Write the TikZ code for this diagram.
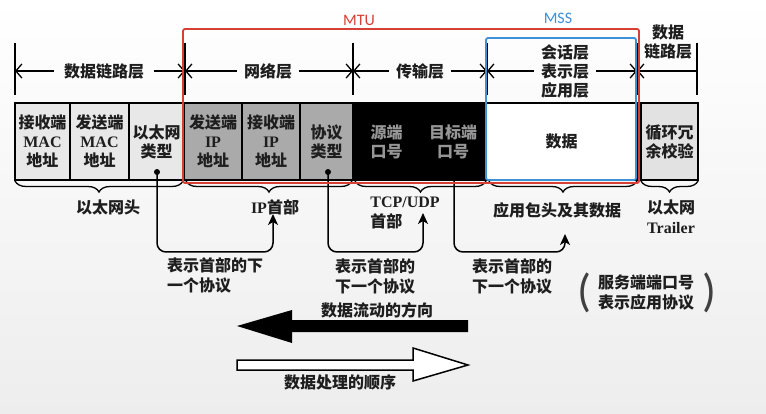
\documentclass[tikz,border=0pt]{standalone}
\usepackage{fontspec}
\setmainfont{Noto Sans CJK SC}
\newfontfamily\serfont{Liberation Serif}
\newfontfamily\mfont{Carlito}
\usepackage{tikz}
\usetikzlibrary{positioning,arrows.meta,decorations.pathreplacing}
\definecolor{txtdark}{RGB}{30,30,30}
\definecolor{ethgray}{RGB}{232,232,232}
\definecolor{ipgray}{RGB}{170,170,170}
\definecolor{portgray}{RGB}{150,150,150}
\definecolor{crcgray}{RGB}{226,226,226}
\definecolor{mtured}{RGB}{214,64,52}
\definecolor{mssblue}{RGB}{60,145,215}
\newcommand{\ser}[1]{{\serfont\bfseries #1}}

\tikzset{
cell/.style={draw=black, line width=1.2pt, minimum height=77pt, inner sep=0pt, outer sep=0pt,
  align=center, font=\fontsize{16}{19}\selectfont\bfseries, text=txtdark},
layerlbl/.style={align=center, inner xsep=7pt, inner ysep=1pt,
  font=\fontsize{16}{19}\selectfont\bfseries, text=txtdark},
lbl/.style={align=center, inner sep=1pt, font=\fontsize{16}{20}\selectfont\bfseries, text=txtdark},
paren/.style={inner sep=0pt, text=txtdark!85, font=\mfont\fontsize{46}{46}\selectfont},
layerbar/.style={line width=1.6pt},
layerarrow/.style={line width=1.3pt, -{Straight Barb[length=6pt,width=14pt]}},
hdrbrace/.style={decorate, decoration={brace, mirror, amplitude=11pt}, line width=1.3pt},
callout/.style={line width=1.5pt, rounded corners=9pt, -{Stealth[length=11pt,width=10pt,inset=3pt]}},
}

\begin{document}
\begin{tikzpicture}[x=1pt, y=-1pt]
\shade[top color=white, bottom color=black!7] (0,0) rectangle (766,414);
\useasboundingbox (0,0) rectangle (766,414);

% header fields
\node[cell, fill=ethgray, minimum width=55pt, anchor=north west] (dstmac) at (15,103) {接收端\\\ser{MAC}\\地址};
\node[cell, fill=ethgray, minimum width=59pt, right=0pt of dstmac] (srcmac) {发送端\\\ser{MAC}\\地址};
\node[cell, fill=ethgray, minimum width=55pt, right=0pt of srcmac] (ethtype) {以太网\\类型};
\node[cell, fill=ipgray, minimum width=58pt, right=0pt of ethtype] (srcip) {发送端\\\ser{IP}\\地址};
\node[cell, fill=ipgray, minimum width=58pt, right=0pt of srcip] (dstip) {接收端\\\ser{IP}\\地址};
\node[cell, fill=ipgray, minimum width=53pt, right=0pt of dstip] (proto) {协议\\类型};
\node[cell, fill=black, text=portgray, minimum width=67pt, right=0pt of proto] (srcport) {源端\\口号};
\node[cell, fill=black, text=portgray, minimum width=66pt, right=0pt of srcport] (dstport) {目标端\\口号};
\node[cell, fill=white, minimum width=151pt, right=0pt of dstport] (appdata) {数据};
\node[cell, fill=crcgray, minimum width=57pt, right=4pt of appdata] (crc) {循环冗\\余校验};

% layers
\foreach \x/\n in {15/0,185/1,353/2,487/3,637/4,697/5}{
  \draw[layerbar] (\x,43) -- (\x,95);
  \coordinate (b\n) at (\x,71);
}
\node[layerlbl, inner xsep=10pt] (dllbl) at (104,71) {数据链路层};
\node[layerlbl] (netlbl) at (268,71) {网络层};
\node[layerlbl] (tplbl) at (420,71) {传输层};
\node[layerlbl] (sesslbl) at (565,71) {会话层\\表示层\\应用层};
\node[layerlbl] (dl2lbl) at (668,42) {数据\\链路层};

\draw[layerarrow] (dllbl) -- (b0);
\draw[layerarrow] (dllbl) -- (b1);
\draw[layerarrow] (netlbl) -- (b1);
\draw[layerarrow] (netlbl) -- (b2);
\draw[layerarrow] (tplbl) -- (b2);
\draw[layerarrow] (tplbl) -- (b3);
\draw[layerarrow] (sesslbl) -- (b3);
\draw[layerarrow] (sesslbl) -- (b4);
\draw[layerarrow, {Straight Barb[length=6pt,width=14pt]}-] (b4) -- (b5);

% braces under the fields
\draw[hdrbrace] ([yshift=-1pt]dstmac.south west) -- ([yshift=-1pt,xshift=-1pt]ethtype.south east);
\draw[hdrbrace] ([yshift=-1pt,xshift=2pt]srcip.south west) -- ([yshift=-1pt,xshift=-1pt]proto.south east);
\draw[hdrbrace] ([yshift=-1pt,xshift=2pt]srcport.south west) -- ([yshift=-1pt]dstport.south east);
\draw[hdrbrace] ([yshift=-1pt,xshift=3pt]appdata.south west) -- ([yshift=-1pt]appdata.south east);
\draw[hdrbrace] ([yshift=-1pt]crc.south west) -- ([yshift=-1pt]crc.south east);

\node[lbl] (ethhdr) at (108,207) {以太网头};
\node[lbl] (iphdr) at (275,207) {\ser{IP}首部};
\node[lbl, align=left] (tcphdr) at (405,213) {\ser{TCP/UDP}\\首部};
\node[lbl] (apphdr) at (557,210) {应用包头及其数据};
\node[lbl] (ethtrl) at (671,217) {以太网\\\ser{Trailer}};

% next-protocol pointers
\coordinate (ethdot) at (157,172);
\coordinate (protodot) at (328,172);
\coordinate (portfoot) at (454,181);
\coordinate (iptip) at (273,214);
\coordinate (tcptip) at (423,213);
\coordinate (apptip) at (565,234);
\fill (ethdot) circle (3pt);
\fill (protodot) circle (3pt);
\draw[callout] (ethdot) -- ++(0,80) -| (iptip);
\draw[callout] (protodot) -- ++(0,80) -| (tcptip);
\draw[callout] (portfoot) -- ++(0,71) -| (apptip);

\node[lbl, align=left, anchor=west] (ethnote) at (166,275) {表示首部的下\\一个协议};
\node[lbl, align=left, anchor=west] (protonote) at (334,276) {表示首部的\\下一个协议};
\node[lbl, align=left, anchor=west] (portnote) at (471,276) {表示首部的\\下一个协议};
\node[lbl, align=left, anchor=west] (svcnote) at (597,293) {服务端端口号\\表示应用协议};
\node[paren, left=5pt of svcnote] (lparen) {(};
\node[paren, right=7pt of svcnote] (rparen) {)};

% direction arrows
\fill[black] (468,320) -- (292,320) -- (292,310) -- (237,326) -- (292,343) -- (292,332) -- (468,332) -- cycle;
\draw[fill=white, line width=1.5pt] (237,360) -- (413,360) -- (413,348) -- (468,365) -- (413,381) -- (413,370) -- (237,370) -- cycle;
\node[lbl] (flowlbl) at (377,310) {数据流动的方向};
\node[lbl] (proclbl) at (340,382) {数据处理的顺序};

% MTU / MSS
\draw[mtured, line width=1.8pt, rounded corners=2pt] (183,29) rectangle (639,183);
\draw[mssblue, line width=1.8pt, rounded corners=2pt] (486,38) rectangle (636,180);
\node[text=mtured, font=\mfont\fontsize{16}{19}\selectfont] (mtulbl) at (359,20) {MTU};
\node[text=mssblue, font=\mfont\fontsize{16}{19}\selectfont] (msslbl) at (558,18) {MSS};
\end{tikzpicture}
\end{document}
